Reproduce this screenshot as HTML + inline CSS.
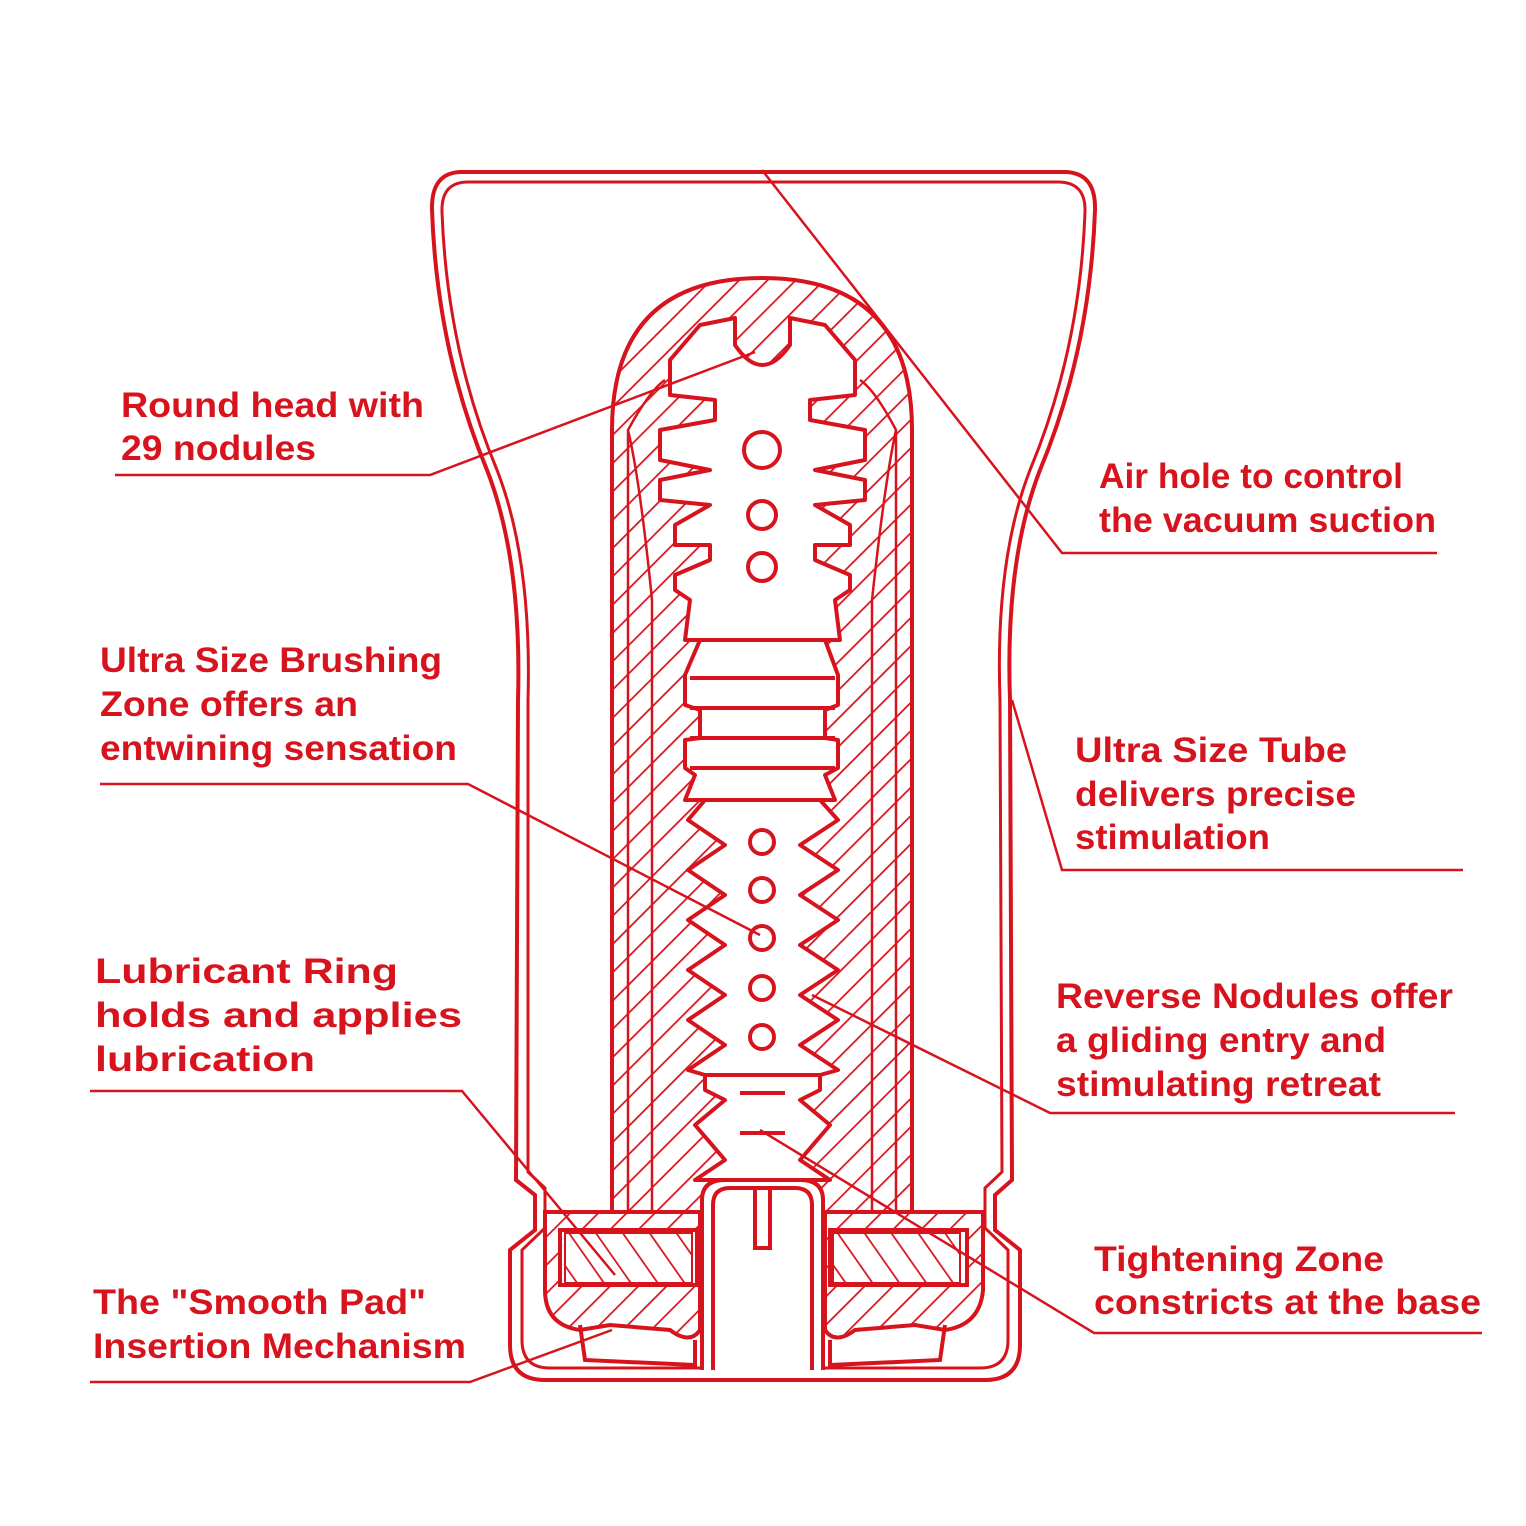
<!DOCTYPE html>
<html><head><style>
html,body{margin:0;padding:0;background:#fff;}
svg{display:block;}
text{font-family:"Liberation Sans",sans-serif;font-size:35px;fill:#d7141e;font-weight:bold;}
</style></head><body>
<svg width="1526" height="1526" viewBox="0 0 1526 1526" xmlns="http://www.w3.org/2000/svg">
<defs>
<pattern id="h" width="20" height="20" patternUnits="userSpaceOnUse" patternTransform="rotate(45)">
<rect width="20" height="20" fill="#fff"/><line x1="0" y1="0" x2="0" y2="20" stroke="#d7141e" stroke-width="3.5"/>
</pattern>
<pattern id="h2" width="22" height="22" patternUnits="userSpaceOnUse" patternTransform="rotate(-35)">
<rect width="22" height="22" fill="#fff"/><line x1="0" y1="0" x2="0" y2="22" stroke="#d7141e" stroke-width="3.5"/>
</pattern>
</defs>
<g fill="none" stroke="#d7141e" stroke-width="4">
<path d="M462,172 L1064,172 Q1096,172 1095,210 Q1090,350 1040,470 Q1005,560 1010,700 L1012,1180 L995,1195 L995,1230 L1020,1250 L1020,1345 Q1020,1380 985,1380 L545,1380 Q510,1380 510,1345 L510,1250 L535,1230 L535,1195 L516,1180 L518,700 Q522,560 487,470 Q437,350 432,210 Q431,172 462,172 Z"/>
<path d="M468,182 L1058,182 Q1086,182 1085,212 Q1080,350 1030,470 Q995,560 1000,700 L1002,1172 L985,1188 L985,1228 L1008,1250 L1008,1340 Q1008,1368 980,1368 L550,1368 Q522,1368 522,1340 L522,1250 L545,1228 L545,1188 L528,1172 L528,700 Q532,560 497,470 Q447,350 442,212 Q441,182 468,182 Z" stroke-width="3"/>
</g>
<path d="M612,1215 L612,430 Q612,278 762,278 Q912,278 912,430 L912,1215 Z" fill="url(#h)" stroke="#d7141e" stroke-width="4"/>
<path d="M628,1210 L628,430 Q650,390 665,380 M896,1210 L896,430 Q875,390 860,380 M652,1210 L652,600 Q640,480 628,430 M872,1210 L872,600 Q885,480 896,430" fill="none" stroke="#d7141e" stroke-width="2.5"/>
<g fill="#fff" stroke="#d7141e" stroke-width="4" stroke-linejoin="round">
<path d="M700,325 L735,318 L735,345 Q762,385 790,345 L790,318 L825,325 L855,360 L855,395 L810,400 L810,420 L865,430 L865,460 L815,470 L865,480 L865,500 L815,505 L850,525 L850,545 L815,545 L815,560 L850,575 L850,590 L835,600 L840,640 L685,640 L690,600 L675,590 L675,575 L710,560 L710,545 L675,545 L675,525 L710,505 L660,500 L660,480 L710,470 L660,460 L660,430 L715,420 L715,400 L670,395 L670,360 Z"/>
<path d="M700,640 L825,640 L838,675 L838,705 L825,710 L825,738 L838,740 L838,768 L825,775 L835,800 L685,800 L695,775 L685,768 L685,740 L700,738 L700,710 L685,705 L685,675 Z"/>
<path d="M705,800 L820,800 L838,820 L800,845 L838,870 L800,895 L838,920 L800,945 L838,970 L800,995 L838,1020 L800,1045 L838,1070 L820,1075 L705,1075 L688,1070 L725,1045 L688,1020 L725,995 L688,970 L725,945 L688,920 L725,895 L688,870 L725,845 L688,820 Z"/>
<path d="M705,1075 L820,1075 L820,1090 L800,1100 L830,1125 L800,1160 L830,1180 L695,1180 L725,1160 L695,1125 L725,1100 L705,1090 Z"/>
<line x1="690" y1="678" x2="835" y2="678"/><line x1="690" y1="708" x2="835" y2="708"/><line x1="690" y1="738" x2="835" y2="738"/><line x1="690" y1="768" x2="835" y2="768"/>
<circle cx="762" cy="450" r="18"/><circle cx="762" cy="515" r="14"/><circle cx="762" cy="567" r="14"/>
<circle cx="762" cy="842" r="12"/><circle cx="762" cy="890" r="12"/><circle cx="762" cy="938" r="12"/><circle cx="762" cy="988" r="12"/><circle cx="762" cy="1037" r="12"/>
<line x1="740" y1="1093" x2="785" y2="1093"/><line x1="740" y1="1133" x2="785" y2="1133"/>
</g>
<path d="M545,1212 L700,1212 L700,1330 Q690,1345 670,1330 L610,1325 L580,1330 Q545,1325 545,1290 Z" fill="url(#h)" stroke="#d7141e" stroke-width="4"/>
<path d="M825,1212 L983,1212 L983,1290 Q980,1325 945,1330 L915,1325 L855,1330 Q835,1345 825,1330 Z" fill="url(#h)" stroke="#d7141e" stroke-width="4"/>
<rect x="560" y="1230" width="137" height="55" fill="#fff" stroke="#d7141e" stroke-width="4"/>
<rect x="565" y="1233" width="127" height="50" fill="url(#h2)" stroke="#d7141e" stroke-width="2"/>
<rect x="830" y="1230" width="137" height="55" fill="#fff" stroke="#d7141e" stroke-width="4"/>
<rect x="833" y="1233" width="127" height="50" fill="url(#h2)" stroke="#d7141e" stroke-width="2"/>
<path d="M702,1370 L702,1200 Q702,1180 725,1180 L800,1180 Q823,1180 823,1200 L823,1370" fill="#fff" stroke="#d7141e" stroke-width="4"/>
<path d="M713,1370 L713,1205 Q713,1188 730,1188 L795,1188 Q812,1188 812,1205 L812,1370" fill="none" stroke="#d7141e" stroke-width="4"/>
<rect x="755" y="1188" width="15" height="60" fill="#fff" stroke="#d7141e" stroke-width="4"/>
<path d="M580,1325 L585,1360 L695,1365 L695,1340 M945,1325 L940,1360 L830,1365 L830,1340" fill="none" stroke="#d7141e" stroke-width="4"/>
<g fill="none" stroke="#d7141e" stroke-width="2.5">
<polyline points="115,475 430,475 755,352"/>
<polyline points="1437,553 1062,553 762,170"/>
<polyline points="100,784 468,784 760,935"/>
<polyline points="1463,870 1062,870 1012,700"/>
<polyline points="90,1091 462,1091 615,1275"/>
<polyline points="1455,1113 1050,1113 812,995"/>
<polyline points="1482,1333 1094,1333 760,1130"/>
<polyline points="90,1382 470,1382 612,1330"/>
</g>
<g>
<text x="121" y="417" textLength="303" lengthAdjust="spacingAndGlyphs">Round head with</text>
<text x="121" y="460" textLength="195" lengthAdjust="spacingAndGlyphs">29 nodules</text>
<text x="1099" y="488" textLength="304" lengthAdjust="spacingAndGlyphs">Air hole to control</text>
<text x="1099" y="532" textLength="337" lengthAdjust="spacingAndGlyphs">the vacuum suction</text>
<text x="100" y="672" textLength="342" lengthAdjust="spacingAndGlyphs">Ultra Size Brushing</text>
<text x="100" y="716" textLength="258" lengthAdjust="spacingAndGlyphs">Zone offers an</text>
<text x="100" y="760" textLength="357" lengthAdjust="spacingAndGlyphs">entwining sensation</text>
<text x="1075" y="762" textLength="272" lengthAdjust="spacingAndGlyphs">Ultra Size Tube</text>
<text x="1075" y="806" textLength="281" lengthAdjust="spacingAndGlyphs">delivers precise</text>
<text x="1075" y="849" textLength="195" lengthAdjust="spacingAndGlyphs">stimulation</text>
<text x="95" y="983" textLength="303" lengthAdjust="spacingAndGlyphs">Lubricant Ring</text>
<text x="95" y="1027" textLength="367" lengthAdjust="spacingAndGlyphs">holds and applies</text>
<text x="95" y="1071" textLength="220" lengthAdjust="spacingAndGlyphs">lubrication</text>
<text x="1056" y="1008" textLength="397" lengthAdjust="spacingAndGlyphs">Reverse Nodules offer</text>
<text x="1056" y="1052" textLength="330" lengthAdjust="spacingAndGlyphs">a gliding entry and</text>
<text x="1056" y="1096" textLength="325" lengthAdjust="spacingAndGlyphs">stimulating retreat</text>
<text x="1094" y="1271" textLength="290" lengthAdjust="spacingAndGlyphs">Tightening Zone</text>
<text x="1094" y="1314" textLength="387" lengthAdjust="spacingAndGlyphs">constricts at the base</text>
<text x="93" y="1314" textLength="333" lengthAdjust="spacingAndGlyphs">The "Smooth Pad"</text>
<text x="93" y="1358" textLength="373" lengthAdjust="spacingAndGlyphs">Insertion Mechanism</text>
</g>
</svg>
</body></html>
